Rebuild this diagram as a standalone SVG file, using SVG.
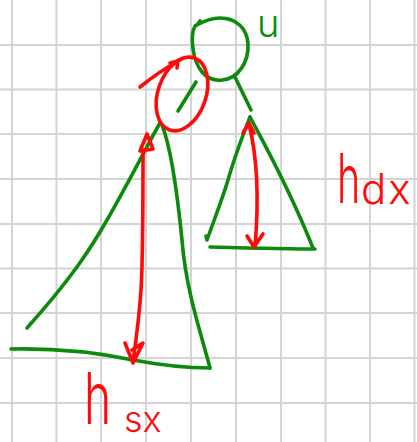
<svg xmlns="http://www.w3.org/2000/svg" width="417" height="442" viewBox="0 0 417 442">
<style>
.grid line{stroke:#d4d4d4;stroke-width:2}
.g{fill:none;stroke:#0b8a0b;stroke-width:3.6;stroke-linecap:round;stroke-linejoin:round}
.r{fill:none;stroke:#ff0a0a;stroke-width:3.6;stroke-linecap:round;stroke-linejoin:round}
.tr{fill:#ff0a0a;font-family:Inter,Lato,"Liberation Sans",sans-serif;font-weight:300}
.tg{fill:#0b8a0b;font-family:Inter,Lato,"Liberation Sans",sans-serif;font-weight:300}
</style>
<rect width="417" height="442" fill="#fff"/>
<g class="grid">
<line x1="12" y1="0" x2="12" y2="442"/><line x1="56.5" y1="0" x2="56.5" y2="442"/><line x1="101" y1="0" x2="101" y2="442"/><line x1="146" y1="0" x2="146" y2="442"/><line x1="191" y1="0" x2="191" y2="442"/><line x1="236" y1="0" x2="236" y2="442"/><line x1="281" y1="0" x2="281" y2="442"/><line x1="325.5" y1="0" x2="325.5" y2="442"/><line x1="370" y1="0" x2="370" y2="442"/><line x1="414.5" y1="0" x2="414.5" y2="442"/>
<line x1="0" y1="45" x2="417" y2="45"/><line x1="0" y1="89.5" x2="417" y2="89.5"/><line x1="0" y1="134" x2="417" y2="134"/><line x1="0" y1="179" x2="417" y2="179"/><line x1="0" y1="224" x2="417" y2="224"/><line x1="0" y1="268.5" x2="417" y2="268.5"/><line x1="0" y1="313" x2="417" y2="313"/><line x1="0" y1="358" x2="417" y2="358"/><line x1="0" y1="403" x2="417" y2="403"/>
</g>
<g id="node-u">
<path class="g" d="M197,25 L200,21 M195,26 C190,35 192,60 202,72 C208,79 214,81 222,80 C238,79 249,62 248,44 C247,28 236,18 220,18 C208,18 197,25 195,26"/>
<text class="tg" x="257" y="37" font-size="38">u</text>
</g>
<g id="subtree-sx">
<path class="g" d="M160,123 C150,140 130,180 107,220 C90,250 70,280 27,328 L31,323"/>
<path class="g" d="M162,125 C172,150 178,200 182,240 C186,290 200,330 210,368"/>
<path class="g" d="M11,349 C60,348 100,353 133,360 C160,365 190,368 210,368"/>
</g>
<g id="subtree-dx">
<path class="g" d="M250,117 C243,135 235,155 228,180 C222,200 214,220 207,240 L206,236"/>
<path class="g" d="M250,117 C265,145 290,190 313,248"/>
<path class="g" d="M210,247 C250,248 290,249 315,249"/>
</g>
<g id="connectors">
<path class="g" d="M235,77 L251,110"/>
<path class="g" d="M196,82 L178,111"/>
<ellipse class="r" cx="182" cy="94" rx="24" ry="38" transform="rotate(19 182 94)"/>
<path class="r" d="M140,87 C155,75 165,68 180,60 M170,63 L178,61 L177,68"/>
<path class="r" d="M143,150 C143,200 143,260 141,290 C139,320 136,340 133,362 M140,151 L147,134 L153,149 Z M125,343 L133,363 L143,343 L132,350"/>
<path class="r" d="M249,124 C258,160 259,200 255,247 M243,133 L249,123 L254,133 M247,236 L254,247 L263,234"/>
</g>
<g id="labels">
<text class="tr" transform="translate(84 424) scale(0.64 1)" font-size="72">h</text>
<text class="tr" x="124" y="432" font-size="36">sx</text>
<text class="tr" transform="translate(337 203) scale(0.58 1)" font-size="68">h</text>
<text class="tr" x="361" y="204" font-size="42" letter-spacing="2">dx</text>
</g>
</svg>
